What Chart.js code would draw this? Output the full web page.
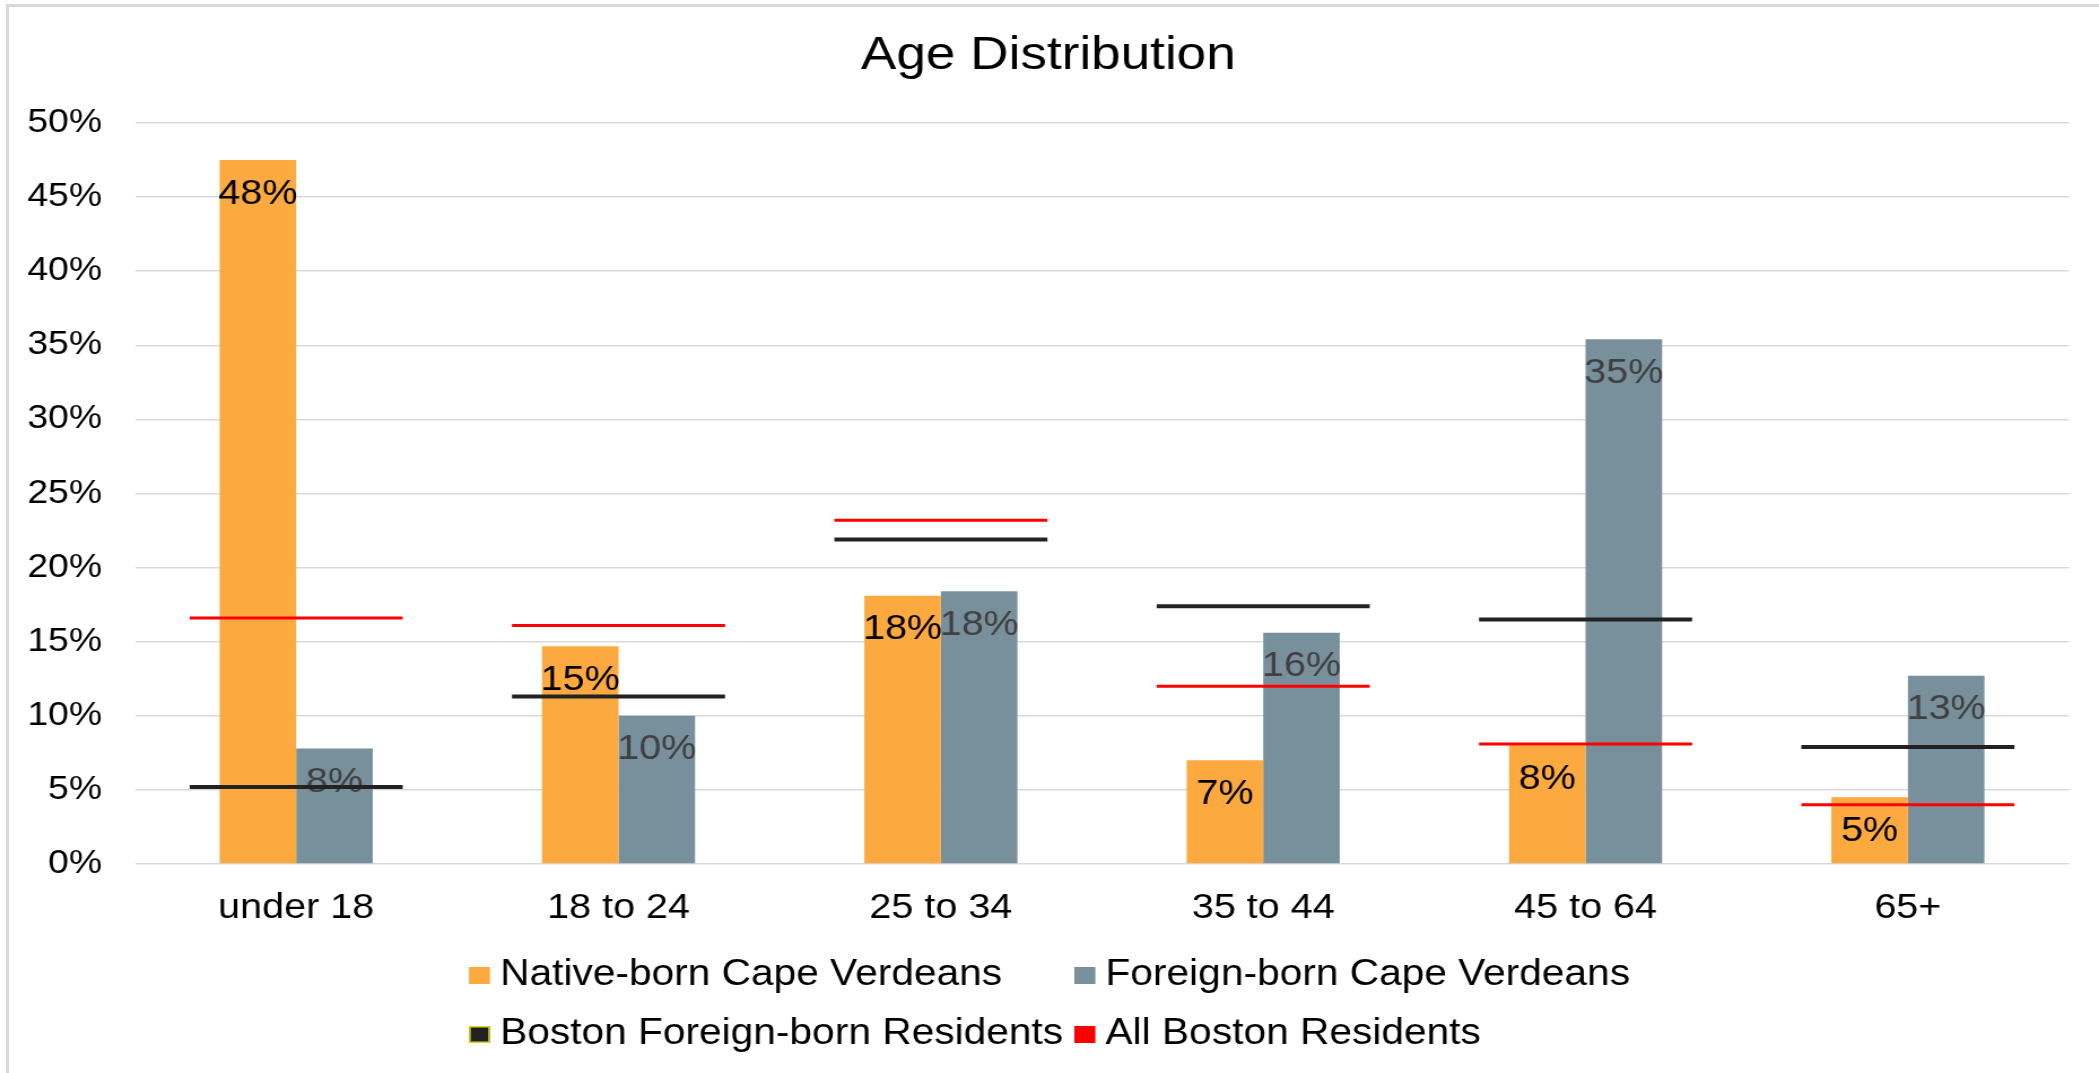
<!DOCTYPE html>
<html>
<head>
<meta charset="utf-8">
<script src="https://cdn.jsdelivr.net/npm/chart.js@4.4.1/dist/chart.umd.min.js"></script>
<style>
html, body { margin: 0; padding: 0; background: #fff; overflow: hidden; width: 2099px; height: 1073px; }
#frame { position: absolute; left: 6px; top: 4px; width: 2200px; height: 1200px; border: 3px solid #d9d9d9; box-sizing: border-box; }
#c { position: absolute; left: 0; top: 0; }
</style>
</head>
<body>
<div id="frame"></div>
<canvas id="c" width="1858" height="1073" style="width:2099px;height:1073px;"></canvas>
<script>
// ---- data ----
const categories = ['under 18', '18 to 24', '25 to 34', '35 to 44', '45 to 64', '65+'];
const nativeBornCV = [47.5, 14.7, 18.1, 7.0, 8.0, 4.5];
const foreignBornCV = [7.8, 10.0, 18.4, 15.6, 35.4, 12.7];
const bostonForeignBorn = [5.2, 11.3, 21.9, 17.4, 16.5, 7.9];
const allBoston = [16.6, 16.1, 23.2, 12.0, 8.1, 4.0];
const seriesLabels = ['Native-born Cape Verdeans', 'Foreign-born Cape Verdeans', 'Boston Foreign-born Residents', 'All Boston Residents'];
const yMin = 0, yMax = 50, yStep = 5;
const chartTitle = 'Age Distribution';

const FONT = "'Liberation Sans', Arial, Helvetica, sans-serif";
Chart.defaults.font.family = FONT;
Chart.defaults.color = '#000';

const barLabels = {
  id: 'barLabels',
  afterDatasetDraw(chart, args, opts) {
    const meta = args.meta;
    if (meta.type !== 'bar') return;
    const ds = chart.data.datasets[args.index];
    const ctx = chart.ctx;
    ctx.save();
    ctx.font = opts.fontSize + 'px ' + FONT;
    ctx.fillStyle = ds.labelColor;
    ctx.textAlign = 'center';
    ctx.textBaseline = 'middle';
    meta.data.forEach((bar, i) => {
      ctx.fillText(Math.round(ds.data[i]) + '%', bar.x, bar.y + opts.offset);
    });
    ctx.restore();
  }
};

const gridLegend = {
  id: 'gridLegend',
  afterDraw(chart, args, opts) {
    const ctx = chart.ctx;
    const ds = chart.data.datasets;
    ctx.save();
    ctx.font = opts.fontSize + 'px ' + FONT;
    const items = ds.map(d => ({
      text: d.label,
      fill: d.type === 'line' ? d.borderColor : d.backgroundColor,
      stroke: d.legendStroke
    }));
    const widths = items.map(it => opts.boxW + opts.gap + ctx.measureText(it.text).width);
    const cols = 2;
    const colW = Math.max(...widths) + opts.colGap;
    const lastColW = Math.max(...widths.filter((w, i) => i % cols === cols - 1));
    const totalW = colW * (cols - 1) + lastColW;
    const startX = (chart.width - totalW) / 2;
    items.forEach((it, i) => {
      const r = Math.floor(i / cols), c = i % cols;
      const x = startX + c * colW;
      const y = chart.height - opts.rowFromBottom[r];
      ctx.fillStyle = it.fill;
      ctx.fillRect(x, y - opts.boxH / 2, opts.boxW, opts.boxH);
      if (it.stroke) {
        ctx.strokeStyle = it.stroke;
        ctx.lineWidth = 1.5;
        ctx.strokeRect(x + 0.75, y - opts.boxH / 2 + 0.75, opts.boxW - 1.5, opts.boxH - 1.5);
      }
      ctx.fillStyle = '#000';
      ctx.textAlign = 'left';
      ctx.textBaseline = 'middle';
      ctx.fillText(it.text, x + opts.boxW + opts.gap, y);
    });
    ctx.restore();
  }
};

const canvas = document.getElementById('c');

const chart = new Chart(canvas, {
  type: 'bar',
  data: {
    labels: categories,
    datasets: [
      { label: seriesLabels[0], data: nativeBornCV, backgroundColor: '#FCA940', labelColor: '#000000', order: 2,
        categoryPercentage: 0.475, barPercentage: 1.0 },
      { label: seriesLabels[1], data: foreignBornCV, backgroundColor: '#78909C', labelColor: '#404040', order: 2,
        categoryPercentage: 0.475, barPercentage: 1.0 },
      { type: 'line', label: seriesLabels[2], data: bostonForeignBorn, borderColor: '#222222', backgroundColor: '#222222',
        legendStroke: '#d8d820', showLine: false, pointStyle: 'line', pointRadius: 94.3, pointHoverRadius: 94.3,
        pointBorderWidth: 4, pointHoverBorderWidth: 4, order: 1, clip: false },
      { type: 'line', label: seriesLabels[3], data: allBoston, borderColor: '#FF0000', backgroundColor: '#FF0000',
        showLine: false, pointStyle: 'line', pointRadius: 94.3, pointHoverRadius: 94.3,
        pointBorderWidth: 3, pointHoverBorderWidth: 3, order: 1, clip: false }
    ]
  },
  options: {
    responsive: false,
    devicePixelRatio: 1,
    animation: false,
    events: [],
    layout: { autoPadding: false, padding: { left: 24.5, right: 26.5, top: 0, bottom: 120 } },
    scales: {
      x: {
        grid: { display: false, drawTicks: false },
        border: { display: false },
        ticks: { font: { size: 35 }, color: '#000', padding: 23.5 }
      },
      y: {
        min: yMin, max: yMax,
        grid: { color: '#d9d9d9', lineWidth: 1.5, drawTicks: false },
        border: { display: false },
        ticks: { stepSize: yStep, font: { size: 33 }, color: '#000', padding: 29.2,
                 callback: v => v + '%' },
        afterFit: scale => { scale.width = 95; }
      }
    },
    plugins: {
      legend: { display: false },
      tooltip: { enabled: false },
      title: { display: true, text: chartTitle, color: '#000',
               font: { size: 47, weight: 'normal' }, padding: { top: 28, bottom: 38.6 } },
      barLabels: { fontSize: 35, offset: 34 },
      gridLegend: { fontSize: 36, boxW: 18.6, boxH: 17, gap: 9, colGap: 10, rowFromBottom: [97.5, 38.5] }
    }
  },
  plugins: [barLabels, gridLegend]
});
canvas.style.width = '2099px';
canvas.style.height = '1073px';
</script>
</body>
</html>
